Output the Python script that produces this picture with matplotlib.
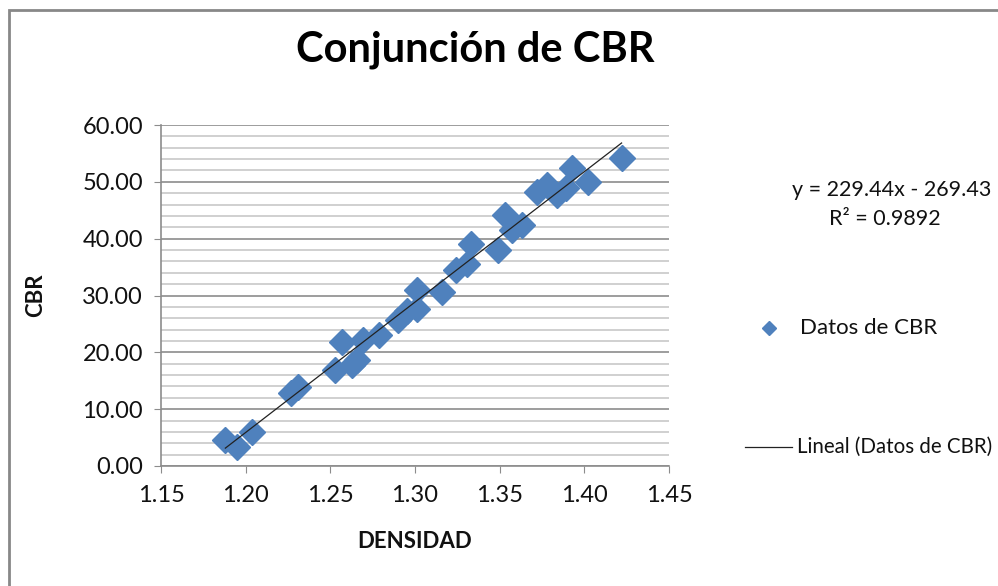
import matplotlib.pyplot as plt
import numpy as np
from matplotlib.patches import Rectangle
from matplotlib.lines import Line2D

# Density vs CBR measurements
densidad = [1.188, 1.195, 1.204, 1.227, 1.231, 1.253, 1.257, 1.263, 1.266, 1.269,
            1.279, 1.290, 1.295, 1.301, 1.301, 1.316, 1.324, 1.331, 1.333, 1.349,
            1.353, 1.357, 1.363, 1.372, 1.378, 1.384, 1.389, 1.393, 1.402, 1.422]
cbr = [4.6, 3.3, 6.0, 12.8, 13.9, 16.9, 21.8, 17.8, 18.6, 22.2,
       23.0, 25.7, 27.3, 27.7, 31.0, 30.6, 34.5, 35.6, 39.0, 38.0,
       44.2, 41.5, 42.4, 48.2, 49.4, 47.7, 48.9, 52.4, 50.0, 54.2]

# Linear trend reported by the spreadsheet
pendiente = 229.44
intercepto = -269.43
r2 = 0.9892

x_ticks = [1.15, 1.20, 1.25, 1.30, 1.35, 1.40, 1.45]
y_ticks = [0, 10, 20, 30, 40, 50, 60]

plt.rcParams["font.family"] = ["Lato", "DejaVu Sans"]
azul = "#4F81BD"
texto = "#111111"

fig = plt.figure(figsize=(9.98, 5.86), dpi=100)
fig.patches.append(Rectangle((9 / 998, -0.05), 1.1, 1.05 - 10 / 586,
                             transform=fig.transFigure, fill=False,
                             edgecolor="#888888", linewidth=2))

ax = fig.add_axes([161 / 998, 1 - 466 / 586, 508 / 998, 341 / 586])
ax.set_xlim(1.15, 1.45)
ax.set_ylim(0, 60)
ax.set_xticks(x_ticks)
ax.set_xticklabels([f"{v:.2f}" for v in x_ticks])
ax.set_yticks(y_ticks)
ax.set_yticklabels([f"{v:.2f}" for v in y_ticks])
ax.set_yticks(np.arange(0, 61, 2), minor=True)
ax.grid(axis="y", which="minor", color="#c8c8c8", linewidth=1.2)
ax.grid(axis="y", which="major", color="#8c8c8c", linewidth=1.2)
ax.tick_params(axis="y", which="minor", length=0)
ax.tick_params(axis="both", which="major", direction="out", length=5,
               color="#8c8c8c", labelsize=17, labelcolor=texto)
ax.tick_params(axis="x", pad=9)
ax.tick_params(axis="y", pad=8)
ax.set_axisbelow(True)
for lado in ["top", "right"]:
    ax.spines[lado].set_visible(False)
for lado in ["left", "bottom"]:
    ax.spines[lado].set_color("#8c8c8c")
    ax.spines[lado].set_linewidth(1.2)

ax.plot(densidad, cbr, linestyle="none", marker="D", markersize=13,
        color=azul, zorder=3)
xt = np.array([min(densidad), max(densidad)])
ax.plot(xt, pendiente * xt + intercepto, color="#222222", linewidth=0.9, zorder=4)

ax.set_xlabel("DENSIDAD", fontsize=16, fontweight="bold", labelpad=18,
              color=texto)
ax.set_ylabel("CBR", fontsize=16, fontweight="bold", labelpad=26, color=texto)
fig.text(475 / 998, 1 - 50 / 586, "Conjunción de CBR", fontsize=30,
         fontweight="bold", ha="center", va="center", color="black")

# Trend equation and legend entries to the right of the plot
fig.text(892 / 998, 1 - 190 / 586, f"y = {pendiente}x - {-intercepto}",
         fontsize=15.5, ha="center", va="center", color=texto)
fig.text(885 / 998, 1 - 219 / 586, f"R² = {r2}", fontsize=15.5,
         ha="center", va="center", color=texto)
fig.lines.append(Line2D([769 / 998], [1 - 328 / 586], marker="D", markersize=7,
                        color=azul, transform=fig.transFigure))
fig.text(800 / 998, 1 - 328 / 586, "Datos de CBR", fontsize=16,
         va="center", color=texto)
fig.lines.append(Line2D([745 / 998, 792 / 998], [1 - 447 / 586] * 2,
                        color="#222222", linewidth=0.9, transform=fig.transFigure))
fig.text(797 / 998, 1 - 447 / 586, "Lineal (Datos de CBR)", fontsize=14.8,
         va="center", color=texto)

fig.savefig("out.png", dpi=100, facecolor="white")
